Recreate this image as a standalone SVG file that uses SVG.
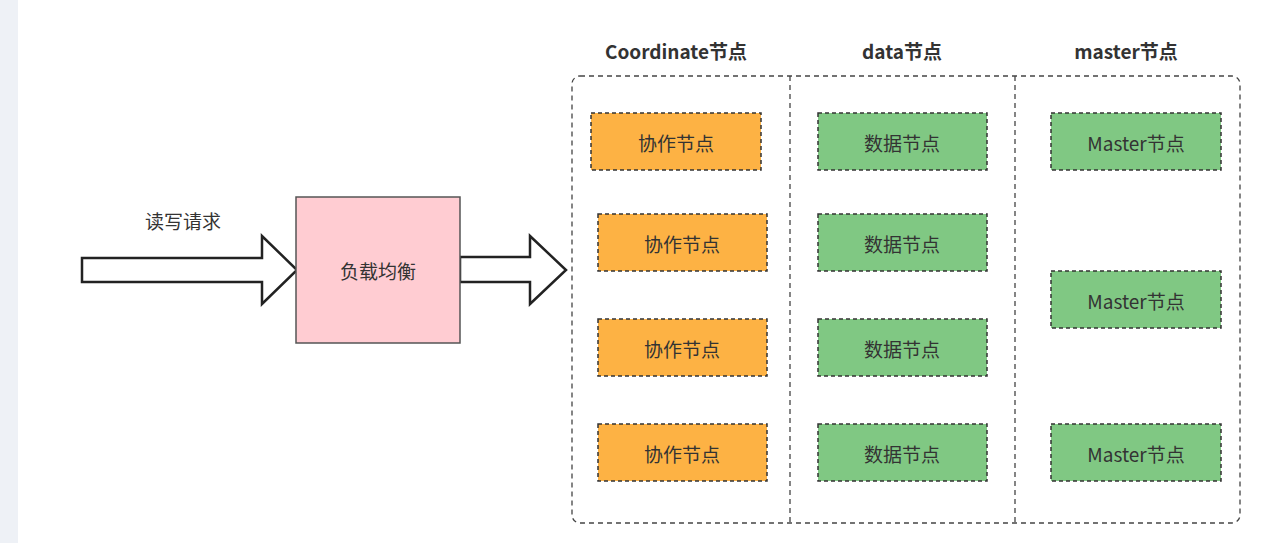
<svg xmlns="http://www.w3.org/2000/svg" width="1280" height="543" viewBox="0 0 1280 543">
<style>
text{font-family:"Noto Sans CJK SC","Liberation Sans",sans-serif;font-size:19px;fill:#333;text-anchor:middle;dominant-baseline:central}
.h{font-weight:bold;font-size:19px}
.o{fill:#FDB244;stroke:#333;stroke-width:1.5;stroke-dasharray:4 3}
.g{fill:#80C883;stroke:#333;stroke-width:1.5;stroke-dasharray:4 3}
.c{fill:none;stroke:#444;stroke-width:1.3;stroke-dasharray:5 4}
.ar{fill:#fff;stroke:#222;stroke-width:2.5}
</style>
<rect width="1280" height="543" fill="#fff"/>
<rect x="0" y="0" width="18" height="543" fill="#eef1f6"/>
<g id="headers">
<text class="h" x="676" y="50">Coordinate节点</text>
<text class="h" x="902" y="50">data节点</text>
<text class="h" x="1126" y="50">master节点</text>
</g>
<g id="containers">
<rect class="c" x="572" y="76" width="668" height="447" rx="8"/>
<line class="c" x1="790" y1="76" x2="790" y2="523"/>
<line class="c" x1="1015" y1="76" x2="1015" y2="523"/>
</g>
<g id="connectors">
<polygon class="ar" points="82,258 262,258 262,236 297,270 262,304 262,282 82,282"/>
<polygon class="ar" points="460,257 530,257 530,236 566,270 530,304 530,282 460,282"/>
</g>
<text x="183" y="220">读写请求</text>
<g id="lb"><rect x="296" y="197" width="164" height="146" fill="#FFCCD2" stroke="#555" stroke-width="1.5"/><text x="378" y="270">负载均衡</text></g>
<g id="c1"><rect class="o" x="591" y="113" width="170" height="57"/><text x="676" y="142">协作节点</text></g>
<g id="c2"><rect class="o" x="598" y="214" width="169" height="57"/><text x="682" y="243">协作节点</text></g>
<g id="c3"><rect class="o" x="598" y="319" width="169" height="57"/><text x="682" y="348">协作节点</text></g>
<g id="c4"><rect class="o" x="598" y="424" width="169" height="57"/><text x="682" y="453">协作节点</text></g>
<g id="d1"><rect class="g" x="818" y="113" width="169" height="57"/><text x="902" y="142">数据节点</text></g>
<g id="d2"><rect class="g" x="818" y="214" width="169" height="57"/><text x="902" y="243">数据节点</text></g>
<g id="d3"><rect class="g" x="818" y="319" width="169" height="57"/><text x="902" y="348">数据节点</text></g>
<g id="d4"><rect class="g" x="818" y="424" width="169" height="57"/><text x="902" y="453">数据节点</text></g>
<g id="m1"><rect class="g" x="1051" y="113" width="170" height="57"/><text x="1136" y="142">Master节点</text></g>
<g id="m2"><rect class="g" x="1051" y="271" width="170" height="57"/><text x="1136" y="300">Master节点</text></g>
<g id="m3"><rect class="g" x="1051" y="424" width="170" height="57"/><text x="1136" y="453">Master节点</text></g>
</svg>
